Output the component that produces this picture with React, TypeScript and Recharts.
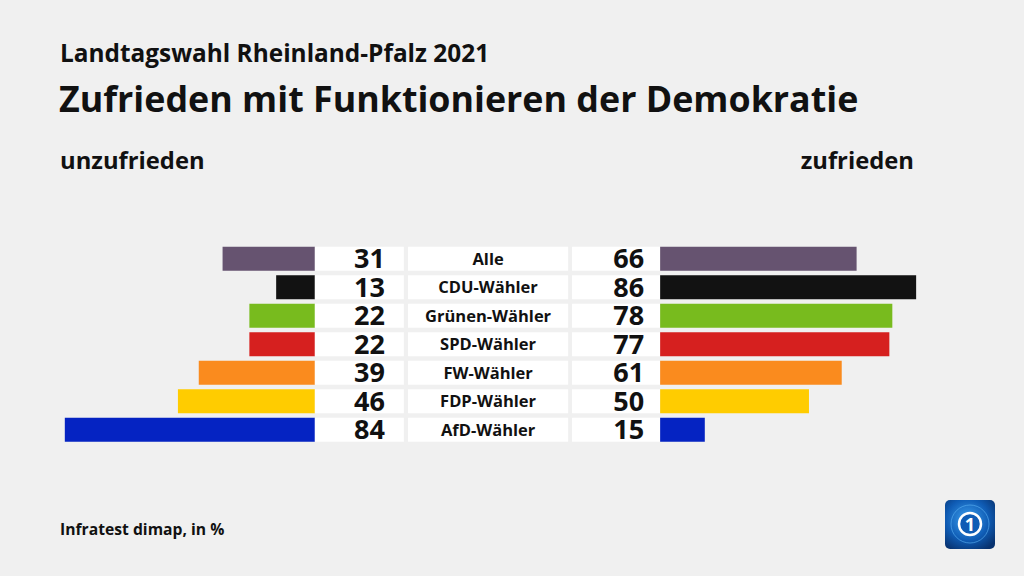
import React from 'react';
import { BarChart, Bar, XAxis, YAxis, Cell, LabelList } from 'recharts';

const categories = ['Alle', 'CDU-Wähler', 'Grünen-Wähler', 'SPD-Wähler', 'FW-Wähler', 'FDP-Wähler', 'AfD-Wähler'];
const unzufrieden = [31, 13, 22, 22, 39, 46, 84];
const zufrieden = [66, 86, 78, 77, 61, 50, 15];
const partyColors = ['#665370', '#121212', '#78BB1E', '#D6201F', '#FA8B1E', '#FFCC00', '#0523C2'];

const data = categories.map((name, i) => ({
  name,
  left: unzufrieden[i],
  right: zufrieden[i],
}));

// half width of the middle block (number boxes + label box), in percentage units
const GAP = 58;
const FONT = '"Open Sans", sans-serif';

const box = (p: any) => ({
  x: p.x ?? p.viewBox?.x,
  y: p.y ?? p.viewBox?.y,
  w: p.width ?? p.viewBox?.width,
  h: p.height ?? p.viewBox?.height,
});

const LeftNumber = (p: any) => {
  const { x, y, w, h } = box(p);
  return (
    <text x={x + w - 19} y={y + h / 2 + 9.5} textAnchor="end" fontFamily={FONT} fontWeight={700} fontSize={27} fill="#111">
      {p.value}
    </text>
  );
};

const RightNumber = (p: any) => {
  const { x, y, w, h } = box(p);
  return (
    <text x={x + w - 16} y={y + h / 2 + 9.5} textAnchor="end" fontFamily={FONT} fontWeight={700} fontSize={27} fill="#111">
      {p.value}
    </text>
  );
};

const CenterLabel = (p: any) => {
  const { x, y, w, h } = box(p);
  return (
    <text x={x + w / 2} y={y + h / 2 + 6} textAnchor="middle" fontFamily={FONT} fontWeight={700} fontSize={16.5} fill="#111">
      {p.value}
    </text>
  );
};

const App: React.FC = () => {
  return (
    <div style={{ position: 'fixed', left: 0, top: 0, width: 1024, height: 576, background: '#F0F0F0', overflow: 'hidden' }}>
      <BarChart
        width={1024}
        height={576}
        data={data}
        layout="vertical"
        barSize={24}
        margin={{ top: 244.75, right: 90, bottom: 131.75, left: 41 }}
      >
        <XAxis type="number" domain={[-150, 150]} hide />
        <YAxis yAxisId="a" type="category" dataKey="name" hide />
        <YAxis yAxisId="b" type="category" dataKey="name" hide />
        <YAxis yAxisId="c" type="category" dataKey="name" hide />
        <YAxis yAxisId="d" type="category" dataKey="name" hide />
        <YAxis yAxisId="e" type="category" dataKey="name" hide />
        <Bar yAxisId="a" dataKey={(d: any) => [-(GAP + d.left), -GAP]} isAnimationActive={false}>
          {data.map((_, i) => (
            <Cell key={i} fill={partyColors[i]} />
          ))}
        </Bar>
        <Bar yAxisId="b" dataKey={() => [-GAP, -28.1]} fill="#FFFFFF" isAnimationActive={false}>
          <LabelList dataKey="left" content={LeftNumber} />
        </Bar>
        <Bar yAxisId="c" dataKey={() => [-26.7, 27.1]} fill="#FFFFFF" isAnimationActive={false}>
          <LabelList dataKey="name" content={CenterLabel} />
        </Bar>
        <Bar yAxisId="d" dataKey={() => [28.4, GAP]} fill="#FFFFFF" isAnimationActive={false}>
          <LabelList dataKey="right" content={RightNumber} />
        </Bar>
        <Bar yAxisId="e" dataKey={(d: any) => [GAP, GAP + d.right]} isAnimationActive={false}>
          {data.map((_, i) => (
            <Cell key={i} fill={partyColors[i]} />
          ))}
        </Bar>
      </BarChart>

      <svg width={1024} height={576} style={{ position: 'absolute', left: 0, top: 0, pointerEvents: 'none' }}>
        <text x={60} y={62} fontFamily={FONT} fontWeight={700} fontSize={24.4} fill="#111">
          Landtagswahl Rheinland-Pfalz 2021
        </text>
        <text x={59} y={111.5} fontFamily={FONT} fontWeight={700} fontSize={35.8} fill="#111">
          Zufrieden mit Funktionieren der Demokratie
        </text>
        <text x={60} y={169} fontFamily={FONT} fontWeight={700} fontSize={23.8} fill="#111">
          unzufrieden
        </text>
        <text x={914} y={169} textAnchor="end" fontFamily={FONT} fontWeight={700} fontSize={23.8} fill="#111">
          zufrieden
        </text>
        <text x={60} y={535} fontFamily={FONT} fontWeight={700} fontSize={15.7} fill="#111">
          Infratest dimap, in %
        </text>
        <defs>
          <radialGradient id="globe" cx="45%" cy="40%" r="70%">
            <stop offset="0%" stopColor="#3FA2F0" />
            <stop offset="60%" stopColor="#0F5CB5" />
            <stop offset="100%" stopColor="#08326F" />
          </radialGradient>
        </defs>
        <rect x={945} y={500} width={50} height={49} rx={5} fill="url(#globe)" />
        <circle cx={970} cy={524} r={19} fill="none" stroke="#5DB4F5" strokeWidth={1} opacity={0.6} />
        <circle cx={970} cy={524} r={11} fill="#0F5CB5" stroke="#FFFFFF" strokeWidth={2.5} />
        <text x={970} y={531} textAnchor="middle" fontFamily={FONT} fontWeight={700} fontSize={18} fill="#FFFFFF">
          1
        </text>
      </svg>
    </div>
  );
};

export default App;
